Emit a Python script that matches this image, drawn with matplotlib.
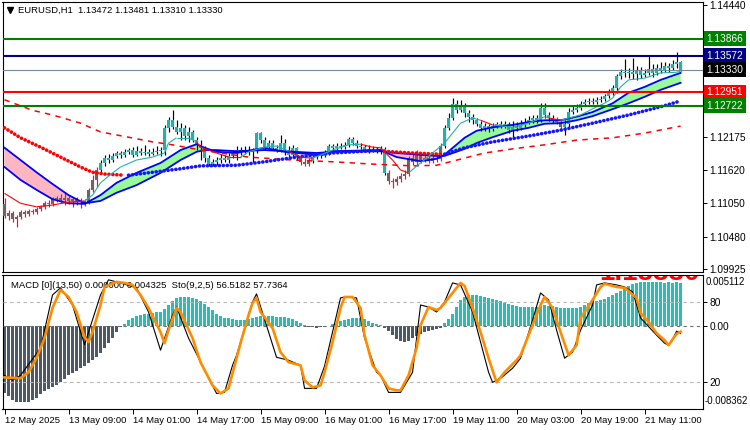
import matplotlib

matplotlib.use("Agg")

import matplotlib.pyplot as plt
import numpy as np
from matplotlib.collections import LineCollection
from matplotlib.lines import Line2D
from matplotlib.transforms import blended_transform_factory

plt.rcParams["font.family"] = ["Liberation Sans", "DejaVu Sans"]

# ---------------- data (EURUSD H1, 12 May 17:00 .. 21 May 20:00) ----------------
tick_bars = [0, 16, 32, 48, 64, 80, 96, 112, 128, 144, 160]
tick_labels = ["12 May 2025", "13 May 09:00", "14 May 01:00", "14 May 17:00",
               "15 May 09:00", "16 May 01:00", "16 May 17:00", "19 May 11:00",
               "20 May 03:00", "20 May 19:00", "21 May 11:00"]

first_open = 1.1103
closes = [
    1.1083, 1.1088, 1.1078, 1.1082, 1.1090, 1.1087, 1.1092, 1.1090, 1.1095, 1.1099,
    1.1105, 1.1104, 1.1112, 1.1114, 1.1111, 1.1114, 1.1109, 1.1112, 1.1107, 1.1109,
    1.1105, 1.1128, 1.1145, 1.1162, 1.1174, 1.1182, 1.1179, 1.1186, 1.1191, 1.1188,
    1.1193, 1.1196, 1.1188, 1.1195, 1.1191, 1.1193, 1.1189, 1.1193, 1.1195, 1.1196,
    1.1234, 1.1247, 1.1235, 1.1227, 1.1234, 1.1220, 1.1227, 1.1213, 1.1205, 1.1200,
    1.1182, 1.1172, 1.1176, 1.1179, 1.1182, 1.1179, 1.1186, 1.1191, 1.1196, 1.1193,
    1.1196, 1.1193, 1.1195, 1.1225, 1.1213, 1.1201, 1.1208, 1.1200, 1.1196, 1.1208,
    1.1196, 1.1188, 1.1200, 1.1184, 1.1176, 1.1172, 1.1177, 1.1184, 1.1188, 1.1186,
    1.1191, 1.1203, 1.1200, 1.1203, 1.1201, 1.1205, 1.1215, 1.1208, 1.1203, 1.1201,
    1.1196, 1.1198, 1.1196, 1.1195, 1.1198, 1.1157, 1.1143, 1.1141, 1.1147, 1.1152,
    1.1155, 1.1182, 1.1176, 1.1188, 1.1179, 1.1182, 1.1177, 1.1182, 1.1181, 1.1203,
    1.1234, 1.1251, 1.1275, 1.1264, 1.1271, 1.1259, 1.1253, 1.1247, 1.1241, 1.1234,
    1.1237, 1.1232, 1.1237, 1.1241, 1.1237, 1.1241, 1.1230, 1.1235, 1.1234, 1.1239,
    1.1244, 1.1247, 1.1251, 1.1247, 1.1268, 1.1256, 1.1251, 1.1247, 1.1244, 1.1235,
    1.1241, 1.1261, 1.1264, 1.1268, 1.1275, 1.1278, 1.1280, 1.1278, 1.1282, 1.1283,
    1.1288, 1.1295, 1.1302, 1.1323, 1.1329, 1.1328, 1.1329, 1.1326, 1.1333, 1.1324,
    1.1328, 1.1335, 1.1328, 1.1336, 1.1333, 1.1340, 1.1336, 1.1343, 1.13472, 1.13330,
]
highs = [
    1.1114, 1.1094, 1.1092, 1.1085, 1.1094, 1.1094, 1.1095, 1.1095, 1.1099, 1.1102,
    1.1109, 1.1111, 1.1116, 1.1117, 1.1121, 1.1124, 1.1117, 1.1116, 1.1116, 1.1114,
    1.1112, 1.1131, 1.1153, 1.1167, 1.1179, 1.1188, 1.1189, 1.1191, 1.1194, 1.1194,
    1.1198, 1.1200, 1.1201, 1.1203, 1.1200, 1.1205, 1.1198, 1.1200, 1.1203, 1.1201,
    1.1239, 1.1253, 1.1264, 1.1247, 1.1242, 1.1239, 1.1235, 1.1230, 1.1218, 1.1213,
    1.1203, 1.1188, 1.1181, 1.1184, 1.1189, 1.1188, 1.1191, 1.1196, 1.1203, 1.1201,
    1.1203, 1.1203, 1.1200, 1.1227, 1.1227, 1.1218, 1.1213, 1.1213, 1.1205, 1.1222,
    1.1215, 1.1203, 1.1205, 1.1201, 1.1188, 1.1183, 1.1183, 1.1191, 1.1193, 1.1193,
    1.1196, 1.1206, 1.1206, 1.1208, 1.1208, 1.1210, 1.1218, 1.1218, 1.1213, 1.1208,
    1.1205, 1.1205, 1.1203, 1.1201, 1.1203, 1.1201, 1.1162, 1.1148, 1.1152, 1.1157,
    1.1162, 1.1186, 1.1191, 1.1196, 1.1193, 1.1189, 1.1188, 1.1188, 1.1188, 1.1208,
    1.1239, 1.1259, 1.1285, 1.1282, 1.1282, 1.1276, 1.1264, 1.1258, 1.1251, 1.1246,
    1.1242, 1.1241, 1.1242, 1.1244, 1.1246, 1.1246, 1.1244, 1.1246, 1.1244, 1.1247,
    1.1251, 1.1254, 1.1256, 1.1256, 1.1276, 1.1276, 1.1261, 1.1256, 1.1252, 1.1249,
    1.1247, 1.1268, 1.1271, 1.1274, 1.1280, 1.1283, 1.1285, 1.1285, 1.1287, 1.1288,
    1.1292, 1.1300, 1.1307, 1.1326, 1.1335, 1.1352, 1.1336, 1.1353, 1.1340, 1.1338,
    1.1335, 1.1357, 1.1343, 1.1343, 1.1347, 1.1347, 1.1345, 1.1350, 1.1364, 1.13481,
]
lows = [
    1.1080, 1.1076, 1.1073, 1.1064, 1.1078, 1.1082, 1.1083, 1.1087, 1.1087, 1.1092,
    1.1095, 1.1099, 1.1100, 1.1107, 1.1105, 1.1102, 1.1104, 1.1099, 1.1102, 1.1097,
    1.1100, 1.1104, 1.1124, 1.1133, 1.1159, 1.1169, 1.1174, 1.1176, 1.1182, 1.1182,
    1.1184, 1.1189, 1.1184, 1.1186, 1.1188, 1.1188, 1.1186, 1.1188, 1.1189, 1.1186,
    1.1188, 1.1227, 1.1232, 1.1223, 1.1213, 1.1213, 1.1210, 1.1210, 1.1196, 1.1179,
    1.1176, 1.1169, 1.1169, 1.1170, 1.1174, 1.1176, 1.1174, 1.1182, 1.1179, 1.1188,
    1.1189, 1.1188, 1.1176, 1.1191, 1.1208, 1.1196, 1.1198, 1.1196, 1.1193, 1.1193,
    1.1188, 1.1182, 1.1184, 1.1179, 1.1170, 1.1169, 1.1169, 1.1174, 1.1181, 1.1182,
    1.1184, 1.1188, 1.1195, 1.1196, 1.1198, 1.1198, 1.1201, 1.1205, 1.1200, 1.1198,
    1.1193, 1.1191, 1.1193, 1.1191, 1.1189, 1.1153, 1.1138, 1.1131, 1.1136, 1.1141,
    1.1147, 1.1152, 1.1170, 1.1170, 1.1174, 1.1176, 1.1174, 1.1174, 1.1176, 1.1177,
    1.1200, 1.1230, 1.1247, 1.1259, 1.1261, 1.1253, 1.1244, 1.1241, 1.1237, 1.1229,
    1.1229, 1.1227, 1.1229, 1.1234, 1.1234, 1.1234, 1.1225, 1.1217, 1.1229, 1.1230,
    1.1235, 1.1241, 1.1242, 1.1242, 1.1244, 1.1251, 1.1246, 1.1242, 1.1241, 1.1230,
    1.1222, 1.1235, 1.1258, 1.1261, 1.1264, 1.1271, 1.1275, 1.1275, 1.1275, 1.1278,
    1.1280, 1.1285, 1.1290, 1.1294, 1.1318, 1.1321, 1.1319, 1.1318, 1.1316, 1.1319,
    1.1321, 1.1324, 1.1321, 1.1324, 1.1328, 1.1329, 1.1329, 1.1333, 1.1336, 1.13310,
]
# bars painted in the "down trend" colours (gray body, crimson wick)
down_ranges = [(0, 23), (74, 76), (96, 109), (138, 139)]

price_ticks = [1.14440, 1.12175, 1.11620, 1.11050, 1.10480, 1.09925]
level_prices = [1.13866, 1.13572, 1.12951, 1.12722]
level_colors = ["#008000", "#000080", "#FF0000", "#008000"]
bid_price = 1.13330

# two blue averages with pink / green fill between them
band_idx = [0, 4, 8, 12, 16, 20, 24, 28, 33, 39, 44, 48, 50, 53, 58, 65, 70, 78, 82,
            94, 98, 104, 108, 110, 115, 118, 122, 127, 131, 135, 139, 143, 147, 152,
            156, 160, 164, 169]
band_fast = [1.1167, 1.1145, 1.1128, 1.1112, 1.1105, 1.1104, 1.1119, 1.1140, 1.1157,
             1.1174, 1.1196, 1.1206, 1.1200, 1.1193, 1.1191, 1.1200, 1.1193, 1.1188,
             1.1194, 1.1196, 1.1184, 1.1177, 1.1181, 1.1188, 1.1217, 1.1229, 1.1235,
             1.1239, 1.1244, 1.1247, 1.1247, 1.1253, 1.1261, 1.1276, 1.1294, 1.1304,
             1.1316, 1.1328]
band_slow = [1.1200, 1.1179, 1.1158, 1.1138, 1.1119, 1.1105, 1.1109, 1.1123, 1.1136,
             1.1157, 1.1179, 1.1193, 1.1196, 1.1196, 1.1194, 1.1196, 1.1194, 1.1191,
             1.1193, 1.1194, 1.1191, 1.1188, 1.1186, 1.1186, 1.1198, 1.1208, 1.1218,
             1.1229, 1.1234, 1.1241, 1.1242, 1.1247, 1.1254, 1.1266, 1.1276, 1.1287,
             1.1299, 1.1311]

# dotted average, red while falling, blue while rising
dot_idx = [0, 4, 9, 14, 19, 22, 25, 30,
           31, 37, 44, 49, 58, 65, 73, 82, 90, 94,
           95, 97, 102, 109,
           110, 115, 122, 131, 139, 147, 156, 164, 169]
dot_val = [1.1234, 1.1217, 1.1201, 1.1184, 1.1167, 1.1158, 1.1155, 1.1153,
           1.1153, 1.1158, 1.1164, 1.1169, 1.1170, 1.1176, 1.1184, 1.1191, 1.1194, 1.1196,
           1.1194, 1.1193, 1.1191, 1.1189,
           1.1189, 1.1200, 1.1210, 1.1220, 1.1230, 1.1242, 1.1256, 1.1270, 1.1280]
dot_up = [0] * 8 + [1] * 10 + [0] * 4 + [1] * 9

# long dashed average
long_idx = [0, 7, 12, 19, 24, 31, 37, 42, 49, 61, 72, 82, 92, 102, 108, 112, 120,
            127, 135, 143, 152, 160, 169]
long_val = [1.1282, 1.1264, 1.1256, 1.1242, 1.1227, 1.1218, 1.1210, 1.1205, 1.1196,
            1.1184, 1.1179, 1.1176, 1.1172, 1.1169, 1.1170, 1.1177, 1.1191, 1.1198,
            1.1205, 1.1213, 1.1217, 1.1225, 1.1237]

# thin fast average, teal in up trend / red in down trend (flag per segment)
thin_idx = [0, 4, 8, 12, 16, 20, 22, 24, 27, 29, 33, 37, 40, 41, 43, 46, 48, 49, 53,
            56, 59, 61, 65, 68, 71, 74, 77, 82, 86, 89, 92, 94, 97, 99, 101, 104, 110,
            114, 117, 119, 122, 127, 131, 135, 136, 139, 144, 148, 150, 152, 154, 156,
            160, 164, 168, 169]
thin_val = [1.1122, 1.1105, 1.1099, 1.1102, 1.1107, 1.1109, 1.1119, 1.1140, 1.1157,
            1.1167, 1.1179, 1.1184, 1.1191, 1.1208, 1.1217, 1.1217, 1.1210, 1.1201,
            1.1191, 1.1184, 1.1184, 1.1193, 1.1201, 1.1203, 1.1194, 1.1184, 1.1182,
            1.1196, 1.1205, 1.1206, 1.1201, 1.1200, 1.1179, 1.1162, 1.1157, 1.1174,
            1.1208, 1.1242, 1.1251, 1.1247, 1.1239, 1.1235, 1.1242, 1.1253, 1.1251,
            1.1247, 1.1256, 1.1270, 1.1276, 1.1285, 1.1304, 1.1316, 1.1319, 1.1328,
            1.1329, 1.1331]
thin_up = ([0] * 5 + [1] * 11 + [0] * 4 + [1] * 4 + [0] * 2 + [1] * 3 + [0] * 5
           + [1] * 5 + [0] * 1 + [1] * 4 + [0] * 1 + [1] * 10)

# MACD histogram
macd_hist = [
    -0.0068, -0.0071, -0.0075, -0.0077, -0.0077, -0.0077, -0.0077, -0.0075, -0.0073, -0.0069,
    -0.0066, -0.0064, -0.0062, -0.0059, -0.0056, -0.0053, -0.0049, -0.0047, -0.0045, -0.0042,
    -0.0040, -0.0037, -0.0034, -0.0031, -0.0027, -0.0022, -0.0017, -0.0012, -0.0006, -0.0001,
    0.0002, 0.0006, 0.0008, 0.0010, 0.0011, 0.0012, 0.0012, 0.0013, 0.0014, 0.0014,
    0.0017, 0.0021, 0.0025, 0.0028, 0.0029, 0.0029, 0.0029, 0.0028, 0.0027, 0.0025,
    0.0022, 0.0019, 0.0016, 0.0012, 0.0010, 0.0008, 0.0008, 0.0007, 0.0006, 0.0006,
    0.0006, 0.0007, 0.0008, 0.0009, 0.0010, 0.0010, 0.0010, 0.0010, 0.0009, 0.0009,
    0.0009, 0.0008, 0.0007, 0.0005, 0.0003, 0.0001, -0.0001, -0.00015, -0.0002, -0.00015,
    -0.0001, 0.00002, 0.0002, 0.0003, 0.0005, 0.0006, 0.0007, 0.0008, 0.0008, 0.0008,
    0.0007, 0.0005, 0.0003, 0.0002, 0.0001, -0.0002, -0.0005, -0.0009, -0.0013, -0.0015,
    -0.0016, -0.0015, -0.0012, -0.0010, -0.0008, -0.0006, -0.0005, -0.0004, -0.0003, -0.0002,
    0.0003, 0.0007, 0.0012, 0.0019, 0.0026, 0.0029, 0.0031, 0.0031, 0.0031, 0.0030,
    0.0029, 0.0028, 0.0027, 0.0026, 0.0025, 0.0023, 0.0022, 0.0021, 0.0020, 0.0019,
    0.0019, 0.0019, 0.0019, 0.0019, 0.0020, 0.0021, 0.0020, 0.0020, 0.0019, 0.0018,
    0.0018, 0.0018, 0.0018, 0.0018, 0.0019, 0.0021, 0.0023, 0.0024, 0.0025, 0.0026,
    0.0027, 0.0029, 0.0031, 0.0033, 0.0035, 0.0038, 0.0040, 0.0042, 0.0043, 0.0044,
    0.0044, 0.0044, 0.0044, 0.0044, 0.0044, 0.0043, 0.0044, 0.0043, 0.0044, 0.004325,
]
macd_top, macd_bottom = 0.005112, -0.008362

# Stochastic (9,2,5): %K main line and %D signal line
stoch_k_idx = [0, 2, 4, 9, 12, 14, 17, 20, 24, 26, 29, 33, 36, 39, 42, 43, 46, 53, 55,
               57, 58, 62, 63, 68, 71, 74, 75, 78, 80, 84, 85, 88, 90, 93, 94, 96, 99,
               102, 104, 106, 108, 110, 112, 114, 117, 121, 122, 124, 127, 129, 132,
               134, 136, 138, 140, 142, 144, 147, 148, 150, 153, 155, 157, 159, 163,
               165, 166, 167, 168, 169]
stoch_k = [25.1, 21.4, 25.1, 45.4, 85.1, 90.4, 77.6, 48.0, 85.1, 96.4, 94.1, 90.4, 72.4,
           43.9, 70.1, 76.1, 52.9, 11.6, 12.4, 32.6, 40.0, 80.0, 85.9, 38.6, 36.4, 32.6,
           15.4, 15.4, 32.0, 82.9, 83.6, 82.9, 52.9, 27.4, 25.1, 12.4, 12.4, 27.4, 77.6,
           76.1, 72.4, 79.9, 94.1, 92.6, 72.4, 27.4, 19.9, 22.9, 30.4, 37.9, 66.4, 86.6,
           81.4, 58.9, 37.9, 42.4, 58.9, 77.6, 92.6, 94.1, 92.6, 91.1, 87.4, 67.9, 55.1,
           49.1, 47.6, 52.0, 58.1, 56.5182]
stoch_d_idx = [0, 4, 6, 8, 10, 12, 14, 16, 18, 20, 21, 22, 24, 25, 28, 30, 32, 34, 36,
               39, 40, 41, 43, 44, 47, 49, 52, 54, 56, 58, 59, 61, 62, 63, 64, 67, 69,
               71, 74, 75, 77, 79, 80, 82, 84, 85, 87, 89, 90, 92, 94, 96, 98, 99, 101,
               103, 104, 106, 108, 109, 111, 114, 115, 117, 119, 121, 123, 125, 128,
               129, 132, 134, 135, 137, 139, 141, 143, 144, 147, 149, 150, 153, 155,
               158, 159, 161, 163, 165, 166, 167, 168, 169]
stoch_d = [23.6, 22.9, 27.4, 37.9, 52.9, 75.4, 88.9, 83.6, 72.4, 53.6, 49.9, 57.4, 77.6,
           91.1, 94.9, 94.1, 92.6, 85.1, 75.4, 57.4, 49.1, 58.9, 75.4, 72.4, 52.9, 34.9,
           17.6, 11.6, 15.4, 37.9, 49.1, 70.1, 79.1, 82.9, 72.4, 60.4, 42.4, 34.9, 32.6,
           21.4, 16.1, 17.6, 27.4, 49.9, 75.4, 83.6, 83.6, 75.4, 55.1, 32.6, 25.1, 15.4,
           13.9, 13.9, 25.1, 45.4, 62.6, 76.1, 73.9, 75.4, 82.9, 94.1, 91.9, 75.4, 57.4,
           37.9, 19.9, 27.4, 36.4, 40.1, 62.6, 77.6, 83.6, 75.4, 57.4, 40.1, 47.6, 67.9,
           81.4, 91.1, 93.4, 91.1, 90.4, 82.9, 71.6, 64.9, 56.6, 51.4, 47.6, 52.0, 56.0,
           57.7364]

# big red price label whose lower edge shows at the top of the indicator pane
big_price_text = "1.13330"

TEAL = "#20B2AA"
HIST_TEAL = "#26BFB5"
HIST_NEG = "#4F5866"
GRAY = "#666666"
CRIMSON = "#DC143C"
FS = 6.8
RFS = 7.3

W, H = 750, 430


def px_rect(x0, y0, x1, y1):
    return [x0 / W, 1 - y1 / H, (x1 - x0) / W, (y1 - y0) / H]


def runs(flags):
    start = 0
    for k in range(1, len(flags) + 1):
        if k == len(flags) or flags[k] != flags[start]:
            yield start, k
            start = k


fig = plt.figure(figsize=(7.5, 4.3), dpi=100)
ax = fig.add_axes(px_rect(2.5, 2, 703, 272))
axm = fig.add_axes(px_rect(2.5, 275, 703, 409), sharex=ax)

n = len(closes)
idx = np.arange(n)
c = np.array(closes)
o = np.array([first_open] + closes[:-1])
down = np.zeros(n, dtype=bool)
for a, b in down_ranges:
    down[a:b + 1] = True

# ---------- price pane ----------
ax.set_xlim(-0.5, 174.6)
ax.set_ylim(1.09875, 1.14492)

bf = np.array(band_fast)
bs = np.array(band_slow)
ax.fill_between(band_idx, bf, bs, where=bf >= bs, interpolate=True,
                color="#98FB98", lw=0, zorder=1)
ax.fill_between(band_idx, bf, bs, where=bf < bs, interpolate=True,
                color="#FFB6C1", lw=0, zorder=1)

ax.vlines(idx, lows, highs, colors=np.where(down, CRIMSON, "black"), lw=0.85, zorder=2)
body_lo = np.minimum(o, c)
body_h = np.maximum(np.abs(c - o), 0.00009)
ax.bar(idx, body_h, bottom=body_lo, width=0.82,
       color=np.where(down, GRAY, TEAL), lw=0, zorder=3, antialiased=False)

ax.plot(band_idx, band_fast, color="#0000FF", lw=1.3, zorder=4)
ax.plot(band_idx, band_slow, color="#0000FF", lw=1.3, zorder=4)
ax.plot(long_idx, long_val, color="#FF0000", lw=1.1, dashes=(3.5, 3.5), zorder=4)

for a, b in runs(dot_up):
    col = "#1515FF" if dot_up[a] else "#FF0000"
    ax.plot(dot_idx[a:b], dot_val[a:b], color=col, lw=2.6,
            dashes=(0.05, 1.05), dash_capstyle="round", zorder=5)

segs = [[(thin_idx[k], thin_val[k]), (thin_idx[k + 1], thin_val[k + 1])]
        for k in range(len(thin_idx) - 1)]
seg_cols = [TEAL if u else "#FF0000" for u in thin_up]
ax.add_collection(LineCollection(segs, colors=seg_cols, linewidths=0.8, zorder=5))

for lvl, col in zip(level_prices, level_colors):
    ax.axhline(lvl, color=col, lw=1.5, zorder=6)
ax.axhline(bid_price, color="#778899", lw=0.8, zorder=6)

ax.yaxis.tick_right()
ax.set_yticks(price_ticks)
ax.set_yticklabels([f"{v:.5f}" for v in price_ticks])
ax.tick_params(axis="y", length=3, width=0.7, pad=1.5, labelsize=RFS)
ax.tick_params(axis="x", bottom=False, labelbottom=False)
for sp in ax.spines.values():
    sp.set_linewidth(0.8)

tr = blended_transform_factory(ax.transAxes, ax.transData)
box_x = 1 + 3.5 / 700.5
box_levels = level_prices[:2] + [bid_price] + level_prices[2:]
box_colors = level_colors[:2] + ["black"] + level_colors[2:]
for lvl, col in zip(box_levels, box_colors):
    ax.text(box_x, lvl, f"{lvl:.5f}", transform=tr, ha="left", va="center",
            color="white", fontsize=RFS,
            bbox=dict(boxstyle="square,pad=0.25", fc=col, ec="none"))

fig.add_artist(Line2D([10 / W], [1 - 10 / H], marker="v", ms=4.5, color="black",
                      transform=fig.transFigure))
fig.text(18 / W, 1 - 10 / H, "EURUSD,H1  1.13472 1.13481 1.13310 1.13330",
         fontsize=FS, va="center", ha="left")

# ---------- MACD / Stochastic pane ----------
axm.set_ylim(macd_bottom, macd_top)
h = np.array(macd_hist)
axm.bar(idx, h, width=0.8, color=np.where(h >= 0, HIST_TEAL, HIST_NEG), lw=0,
        zorder=2, antialiased=False)
axm.axhline(0, color="#6E6E6E", lw=0.8, dashes=(3, 3), zorder=3)
axm.text(1.5, 0.0041, "MACD [0](13,50) 0.000000 0.004325  Sto(9,2,5) 56.5182 57.7364",
         fontsize=FS, va="center", ha="left", zorder=1)
axm.text((700 - 2.5) / 700.5, 0.962, big_price_text, transform=axm.transAxes,
         ha="right", va="baseline", color="#FF0000", fontsize=20, fontweight="bold",
         clip_on=True, zorder=1)

axs = axm.twinx()
axs.set_ylim(0, 100)
axs.axhline(80, color="#B4B4B4", lw=0.8, dashes=(3, 3), zorder=1)
axs.axhline(20, color="#B4B4B4", lw=0.8, dashes=(3, 3), zorder=1)
axs.plot(stoch_k_idx, stoch_k, color="black", lw=0.8, zorder=3)
axs.plot(stoch_d_idx, stoch_d, color="#FF8C00", lw=1.9, zorder=4)
axs.set_yticks([20, 80])
axs.set_yticklabels(["20", "80"])
axs.tick_params(axis="y", length=3, width=0.7, pad=1.5, labelsize=RFS)
for sp in axs.spines.values():
    sp.set_visible(False)

axm.yaxis.tick_right()
axm.set_yticks([0])
axm.set_yticklabels(["0.00"])
axm.tick_params(axis="y", length=3, width=0.7, pad=1.5, labelsize=RFS)
trm = blended_transform_factory(axm.transAxes, axm.transData)
axm.text(1 + 3 / 700.5, macd_top - 0.0002, "0.005112", transform=trm, fontsize=6.9,
         ha="left", va="top")
axm.text(1 + 1.5 / 700.5, macd_bottom + 0.0003, "-0.008362", transform=trm,
         fontsize=6.9, ha="left", va="bottom")

axm.set_xticks(tick_bars)
axm.set_xticklabels(tick_labels, ha="left", fontsize=FS)
axm.tick_params(axis="x", length=3.5, width=0.7, pad=1.5)
for sp in axm.spines.values():
    sp.set_linewidth(0.8)

fig.savefig("out.png", dpi=100, facecolor="white")
